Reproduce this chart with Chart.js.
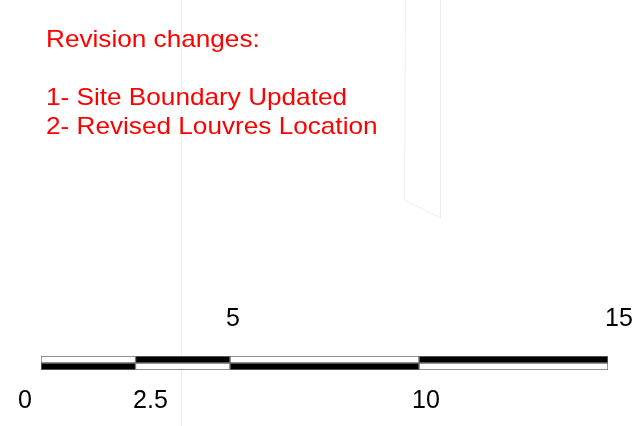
<!DOCTYPE html>
<html>
<head>
<meta charset="utf-8">
<script src="https://cdn.jsdelivr.net/npm/chart.js@4.4.0/dist/chart.umd.min.js"></script>
<style>
  html, body { margin: 0; padding: 0; background: #fff; }
  #wrap { width: 635px; height: 426px; position: relative; }
</style>
</head>
<body>
<div id="wrap"><canvas id="myChart"></canvas></div>
<script>
// scale bar breaks (drawing units)
var breaks = [0, 2.5, 5, 10, 15];
var tickLabels = ["0", "2.5", "5", "10", "15"];
var rows = ["upper", "lower"];
var notes = ["Revision changes:", "", "1- Site Boundary Updated", "2- Revised Louvres Location"];

// label placement: above/below the bar and a small x nudge, like the drawing
var labelSide = ["below", "below", "above", "below", "above"];
var labelNudge = [-16, 15, 3, 7, 11];

var datasets = [];
for (let i = 0; i < breaks.length - 1; i++) {
    var topBlack = i % 2 == 1;
    datasets.push({
        label: tickLabels[i] + "-" + tickLabels[i + 1],
        data: [[breaks[i], breaks[i + 1]], [breaks[i], breaks[i + 1]]],
        backgroundColor: topBlack ? ["#000", "#fff"] : ["#fff", "#000"],
        borderColor: "#6e6e6e",
        borderWidth: 1,
        borderSkipped: false,
        categoryPercentage: 1,
        barPercentage: 1
    });
}

const backdrop = {
    id: "backdrop",
    beforeDraw(chart) {
        var ctx = chart.ctx;
        ctx.save();
        ctx.fillStyle = "#fff";
        ctx.fillRect(0, 0, chart.width, chart.height);
        // faint underlay linework from the drawing
        ctx.strokeStyle = "#eeeeee";
        ctx.lineWidth = 1;
        ctx.beginPath();
        ctx.moveTo(181.5, 0); ctx.lineTo(181.5, 426);
        ctx.moveTo(405.5, 0); ctx.lineTo(404.5, 200); ctx.lineTo(440.5, 218); ctx.lineTo(440.5, 0);
        ctx.stroke();
        ctx.restore();
    }
};

const textLayer = {
    id: "textLayer",
    afterDraw(chart) {
        var ctx = chart.ctx;
        var xs = chart.scales.x;
        var area = chart.chartArea;
        ctx.save();
        ctx.fillStyle = "#000";
        ctx.font = "25px 'Liberation Sans', Arial, sans-serif";
        ctx.textAlign = "center";
        ctx.textBaseline = "alphabetic";
        tickLabels.forEach(function (t, i) {
            var x = xs.getPixelForValue(breaks[i]) + labelNudge[i];
            var y = labelSide[i] == "above" ? area.top - 30 : area.bottom + 38;
            ctx.fillText(t, x, y);
        });

        ctx.fillStyle = "#ff0000";
        ctx.font = "24px 'Liberation Sans', Arial, sans-serif";
        ctx.textAlign = "left";
        var lineY = [47, 76, 105, 134];
        notes.forEach(function (n, i) {
            if (n == "") return;
            ctx.save();
            ctx.translate(46, lineY[i]);
            ctx.scale(1.09, 1);
            ctx.fillText(n, 0, 0);
            ctx.restore();
        });
        ctx.restore();
    }
};

new Chart("myChart", {
    type: "bar",
    data: {
        labels: rows,
        datasets: datasets
    },
    options: {
        indexAxis: "y",
        responsive: true,
        maintainAspectRatio: false,
        animation: false,
        layout: { padding: { left: 41, right: 27, top: 356, bottom: 56 } },
        scales: {
            x: { type: "linear", min: 0, max: 15, display: false, stacked: false },
            y: { display: false, stacked: true }
        },
        plugins: {
            legend: { display: false },
            tooltip: { enabled: false },
            title: { display: false }
        }
    },
    plugins: [backdrop, textLayer]
});
</script>
</body>
</html>
